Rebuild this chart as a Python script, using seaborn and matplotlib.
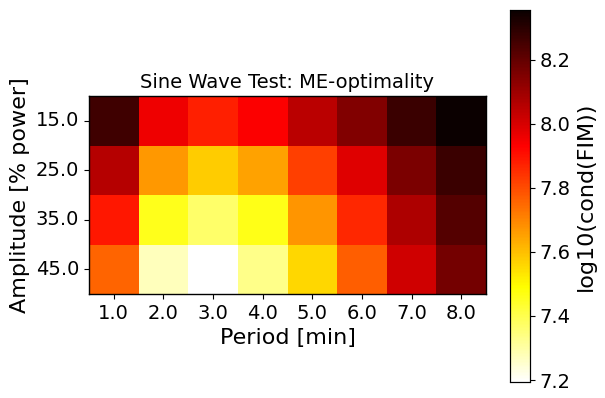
import numpy as np
import pandas as pd
import matplotlib
matplotlib.use("Agg")
import matplotlib.pyplot as plt
import seaborn as sns

sns.set_style("white")
plt.rcParams["font.family"] = ["DejaVu Sans"]
plt.rcParams["text.color"] = "black"
plt.rcParams["axes.labelcolor"] = "black"
plt.rcParams["xtick.color"] = "black"
plt.rcParams["ytick.color"] = "black"

periods = ["1.0", "2.0", "3.0", "4.0", "5.0", "6.0", "7.0", "8.0"]
amplitudes = ["15.0", "25.0", "35.0", "45.0"]

row_15 = [8.263, 7.960, 7.878, 7.934, 8.048, 8.147, 8.271, 8.355]
row_25 = [8.058, 7.667, 7.579, 7.648, 7.824, 7.987, 8.156, 8.271]
row_35 = [7.890, 7.461, 7.367, 7.462, 7.673, 7.864, 8.070, 8.224]
row_45 = [7.757, 7.273, 7.194, 7.333, 7.560, 7.769, 8.013, 8.173]

mat = pd.DataFrame([row_15, row_25, row_35, row_45], index=amplitudes, columns=periods)

fig = plt.figure(figsize=(6.05, 3.98), dpi=100)
ax = fig.add_axes([89 / 605, 104 / 398, 397 / 605, 198 / 398])
cax = fig.add_axes([510 / 605, 16 / 398, 20 / 605, 372 / 398])

sns.heatmap(mat, cmap="hot_r", ax=ax, cbar_ax=cax, square=False,
            cbar_kws={"label": "log10(cond(FIM))"})

for sp in ax.spines.values():
    sp.set_visible(True)
    sp.set_color("black")
    sp.set_linewidth(1.0)

ax.set_title("Sine Wave Test: ME-optimality", fontsize=14, color="black")
ax.set_xlabel("Period [min]", fontsize=16)
ax.set_ylabel("Amplitude [% power]", fontsize=16)
ax.tick_params(axis="both", labelsize=14, length=3.5, width=0.8, bottom=True, left=True,
               colors="black")
plt.setp(ax.get_yticklabels(), rotation=0)
plt.setp(ax.get_xticklabels(), rotation=0)

cax.tick_params(labelsize=14, length=3.5, width=0.8, right=True, colors="black")
cax.set_yticks([7.2, 7.4, 7.6, 7.8, 8.0, 8.2])
cax.set_ylabel("log10(cond(FIM))", fontsize=16, color="black")
for sp in cax.spines.values():
    sp.set_visible(True)
    sp.set_color("black")
    sp.set_linewidth(0.8)

fig.savefig("out.png", dpi=100, facecolor="white")
